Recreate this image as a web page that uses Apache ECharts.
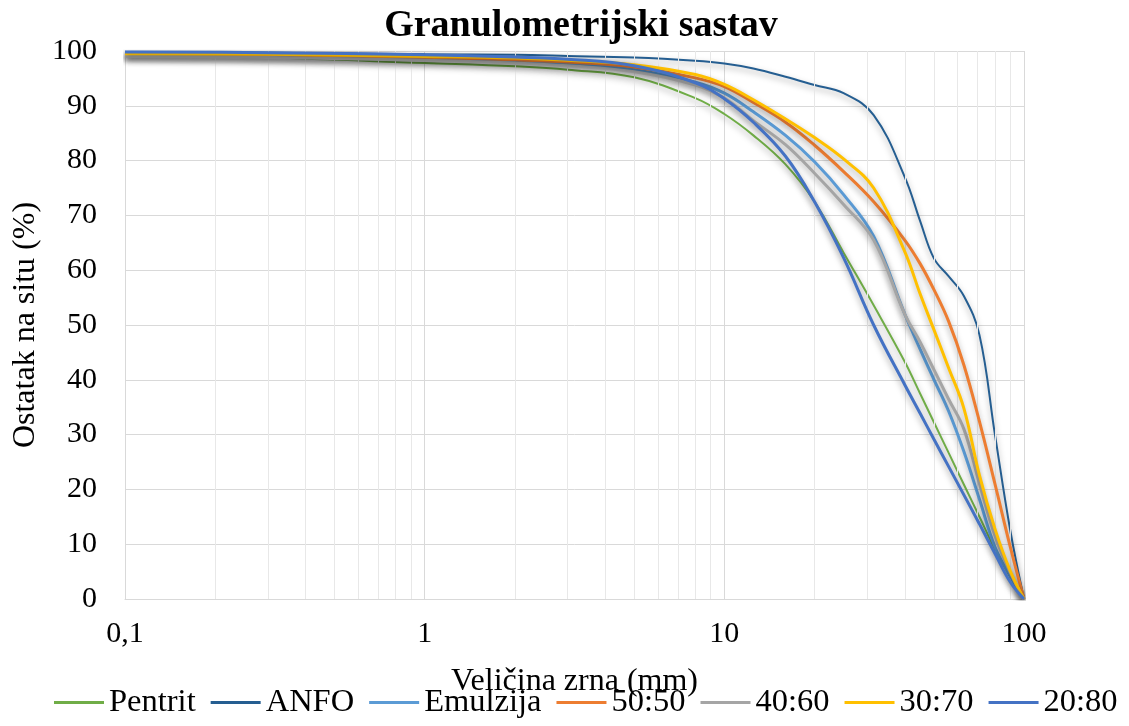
<!DOCTYPE html>
<html>
<head>
<meta charset="utf-8">
<script src="https://cdn.jsdelivr.net/npm/echarts@6/dist/echarts.min.js"></script>
<style>
html,body{margin:0;padding:0;background:#fff;}
#chart{width:1129px;height:726px;}
</style>
</head>
<body>
<div id="chart"></div>
<script>
// Grain sizes (mm)
const sizes = [0.1, 0.3, 1, 2, 3, 5, 8, 10, 12.5, 16, 20, 25, 31.5, 40, 45, 50, 56, 63, 71, 80, 90, 100];
// Residue on sieve (%)
const pentrit  = [99.2, 98.8, 97.8, 97.2, 96.6, 95.2, 91.4, 88.5, 84.6, 79.3, 72.5, 63.2, 53.6, 43.3, 37.5, 32.3, 26.7, 20.9, 15.0, 9.1, 4.0, 0];
const anfo     = [99.8, 99.7, 99.4, 99.3, 99.1, 98.8, 98.2, 97.7, 96.8, 95.3, 93.8, 92.3, 88.3, 77.0, 69.0, 62.2, 58.9, 55.3, 48.2, 30.0, 12.5, 0];
const emulzija = [99.3, 99.1, 98.6, 98.1, 97.6, 96.6, 94.3, 92.3, 88.9, 84.6, 79.8, 73.8, 66.2, 52.0, 45.6, 40.1, 34.3, 26.9, 18.2, 9.5, 4.2, 0];
const mix5050  = [99.5, 99.3, 98.8, 98.4, 98.0, 97.1, 95.1, 93.5, 90.6, 87.0, 82.8, 78.0, 72.5, 65.5, 61.2, 56.5, 50.7, 42.7, 32.4, 21.0, 9.5, 0];
const mix4060  = [99.0, 98.8, 98.3, 97.8, 97.3, 96.2, 93.8, 91.4, 87.3, 82.9, 77.7, 72.0, 65.5, 52.0, 46.9, 41.9, 36.5, 31.0, 21.0, 11.5, 4.8, 0];
const mix3070  = [99.5, 99.4, 99.0, 98.7, 98.3, 97.5, 95.7, 93.9, 91.1, 87.6, 84.2, 80.3, 75.0, 63.4, 55.7, 49.2, 42.2, 34.8, 22.6, 12.8, 5.1, 0];
const mix2080  = [99.8, 99.7, 99.3, 98.9, 98.5, 97.3, 94.2, 91.3, 87.0, 80.8, 72.5, 62.3, 50.0, 39.1, 33.9, 29.2, 24.2, 19.0, 13.7, 8.3, 3.1, 0];

const seriesNames = ['Pentrit', 'ANFO', 'Emulzija', '50:50', '40:60', '30:70', '20:80'];
const seriesData = [pentrit, anfo, emulzija, mix5050, mix4060, mix3070, mix2080];
const seriesColors = ['#70AD47', '#255E91', '#5B9BD5', '#ED7D31', '#A5A5A5', '#FFC000', '#4472C4'];
const seriesWidths = [2, 2, 3, 3, 3, 3, 3];

const xTicks = [0.1, 1, 10, 100];
const xTickLabels = ['0,1', '1', '10', '100'];
const minorGrid = [0.2,0.3,0.4,0.5,0.6,0.7,0.8,0.9,2,3,4,5,6,7,8,9,20,30,40,50,60,70,80,90];

const FONT = "'Liberation Serif','Times New Roman',serif";

const chart = echarts.init(document.getElementById('chart'), null, {renderer: 'canvas'});

const series = [{
  type: 'line',
  name: '_grid',
  data: [],
  silent: true,
  z: 1,
  markLine: {
    silent: true,
    symbol: ['none', 'none'],
    label: {show: false},
    lineStyle: {color: '#e8e8e8', width: 1, type: 'solid'},
    animation: false,
    data: minorGrid.map(v => ({xAxis: v}))
  }
}];
seriesNames.forEach((n, i) => {
  series.push({
    type: 'line',
    name: n,
    data: sizes.map((s, j) => [s, seriesData[i][j]]),
    smooth: 0.4,
    showSymbol: false,
    symbol: 'none',
    z: 3 + i,
    lineStyle: {
      color: seriesColors[i],
      width: seriesWidths[i],
      shadowColor: 'rgba(0,0,0,0.35)',
      shadowBlur: 6,
      shadowOffsetY: 3
    },
    itemStyle: {color: seriesColors[i]}
  });
});

chart.setOption({
  animation: false,
  backgroundColor: '#fff',
  title: {
    text: 'Granulometrijski sastav',
    left: 576, textAlign: 'center',
    top: 2,
    textStyle: {fontFamily: FONT, fontSize: 38, fontWeight: 'bold', color: '#000'}
  },
  grid: {left: 125, right: 105, top: 51, bottom: 127, containLabel: false},
  legend: {
    data: seriesNames,
    left: 54, top: 686, width: 1075,
    padding: 0,
    icon: 'rect',
    itemWidth: 50, itemHeight: 3,
    itemGap: 15,
    textStyle: {fontFamily: FONT, fontSize: 32.5, color: '#000'}
  },
  xAxis: {
    type: 'log',
    logBase: 10,
    min: 0.1, max: 100,
    name: 'Veličina zrna (mm)',
    nameLocation: 'middle',
    nameGap: 67,
    nameTextStyle: {fontFamily: FONT, fontSize: 32, color: '#000'},
    axisLine: {show: true, lineStyle: {color: '#d9d9d9', width: 1}},
    axisTick: {show: false},
    axisLabel: {
      fontFamily: FONT, fontSize: 30, color: '#000', margin: 20,
      formatter: v => {
        const k = xTicks.findIndex(t => Math.abs(t - v) < 1e-9);
        return k >= 0 ? xTickLabels[k] : '';
      }
    },
    splitLine: {show: true, lineStyle: {color: '#d9d9d9', width: 1}}
  },
  yAxis: {
    type: 'value',
    min: 0, max: 100, interval: 10,
    name: 'Ostatak na situ (%)',
    nameLocation: 'middle',
    nameGap: 80,
    nameTextStyle: {fontFamily: FONT, fontSize: 32, color: '#000'},
    axisLine: {show: true, lineStyle: {color: '#d9d9d9', width: 1}},
    axisTick: {show: false},
    axisLabel: {fontFamily: FONT, fontSize: 30, color: '#000', margin: 28},
    splitLine: {show: true, lineStyle: {color: '#d9d9d9', width: 1}}
  },
  series: series
});
</script>
</body>
</html>
